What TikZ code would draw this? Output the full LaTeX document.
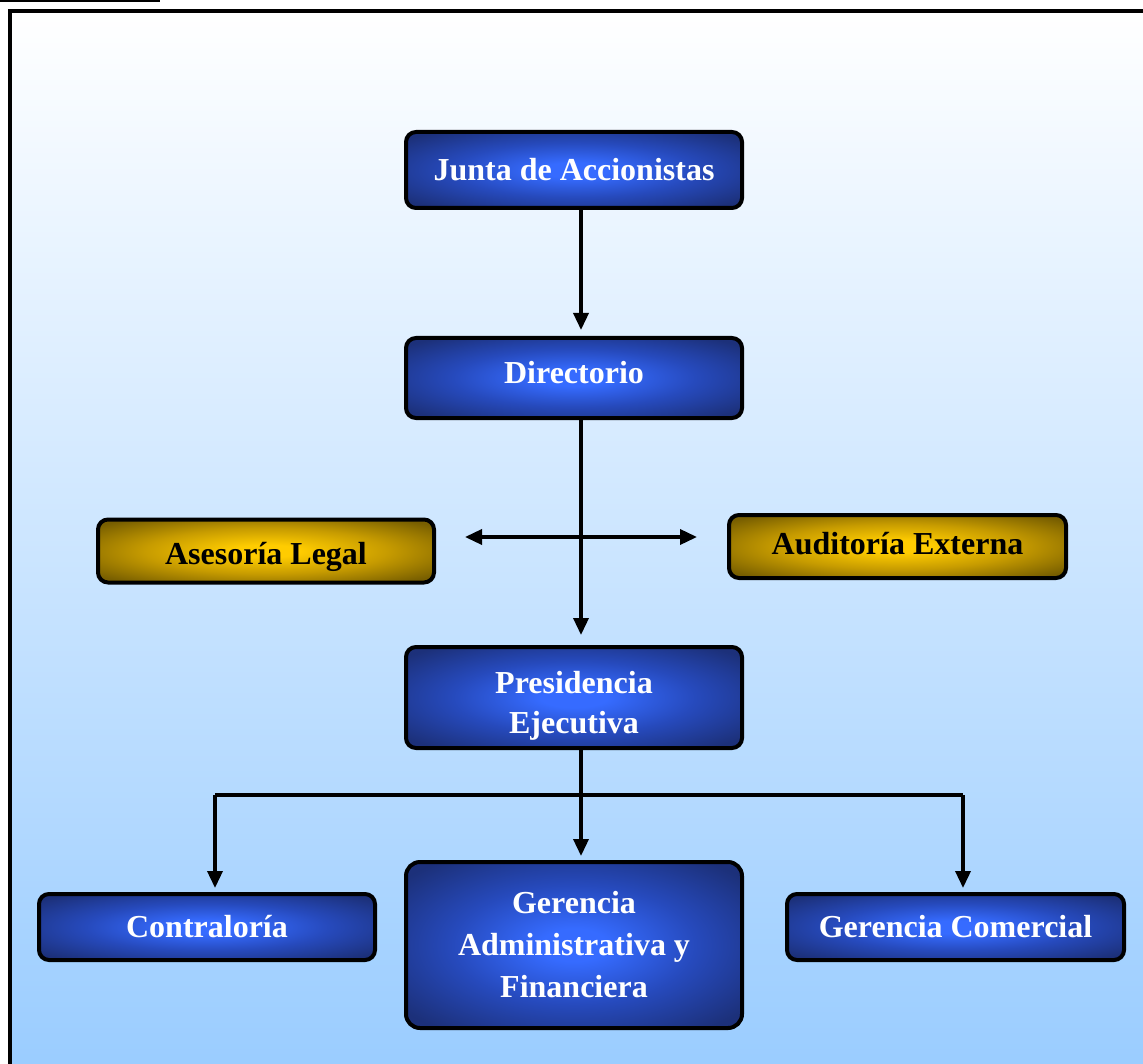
\documentclass[tikz,border=0pt]{standalone}
\usepackage{fontspec}
\setmainfont{Liberation Serif}
\usetikzlibrary{arrows.meta}
\pgfdeclareradialshading{bluesh}{\pgfpoint{0bp}{0bp}}{rgb(0bp)=(0.21,0.42,1); rgb(5bp)=(0.21,0.42,1); rgb(18bp)=(0.15,0.29,0.74); rgb(32bp)=(0.11,0.19,0.48); rgb(50bp)=(0.11,0.19,0.48)}
\pgfdeclareradialshading{goldsh}{\pgfpoint{0bp}{0bp}}{rgb(0bp)=(1,0.8,0); rgb(5bp)=(1,0.8,0); rgb(18bp)=(0.78,0.61,0); rgb(32bp)=(0.47,0.37,0); rgb(50bp)=(0.47,0.37,0)}
\definecolor{bgbot}{RGB}{153,204,255}
\tikzset{
  x=0.5pt, y=-0.5pt,
  boxfont/.style={font=\bfseries\fontsize{16}{21}\selectfont, align=center},
  boxbase/.style={draw=black, line width=2pt, rounded corners=5pt, inner sep=0pt, boxfont},
  bluebox/.style={boxbase, shade, shading=bluesh, text=white},
  goldbox/.style={boxbase, shade, shading=goldsh, text=black},
  wtext/.style={boxfont, text=white, inner sep=0pt},
  conn/.style={line width=1.75pt, draw=black},
  arr/.style={conn, -{Triangle[length=8.5pt,width=7.5pt]}},
  arrtwo/.style={conn, {Triangle[length=8.5pt,width=7.5pt]}-{Triangle[length=8.5pt,width=7.5pt]}},
}
\begin{document}
\begin{tikzpicture}
\useasboundingbox (0,0) rectangle (1143,1063);
\clip (0,0) rectangle (1143,1063);
\fill[white] (0,0) rectangle (1143,1063);
% background panel
\shade[top color=white, bottom color=bgbot] (10,11) rectangle (1160,1080);
\draw[line width=2pt] (10,1080) -- (10,11) -- (1160,11);
\draw[line width=1pt] (0,1) -- (160,1);
% nodes
\node[bluebox, minimum width=168pt, minimum height=38pt] (junta) at (574,170) {Junta de Accionistas};
\node[bluebox, minimum width=168pt, minimum height=40pt] (dir) at (574,378) {};
\node[wtext] (dirtext) at ([yshift=2.5pt]dir.center) {Directorio};
\node[goldbox, minimum width=168pt, minimum height=31.5pt] (ase) at (266,551) {};
\node[boxfont, inner sep=0pt] (asetext) at ([yshift=-3pt]ase.center) {Asesoría Legal};
\node[goldbox, minimum width=168.5pt, minimum height=31.5pt] (aud) at (897.5,546.5) {};
\node[boxfont, inner sep=0pt] (audtext) at ([yshift=1.5pt]aud.center) {Auditoría Externa};
\node[bluebox, minimum width=168pt, minimum height=50.5pt] (pres) at (574,697.5) {};
\node[wtext, font=\bfseries\fontsize{16}{20}\selectfont] (prestext) at ([yshift=-4pt]pres.center) {Presidencia\\Ejecutiva};
\node[bluebox, minimum width=168pt, minimum height=33pt] (cont) at (207,927) {Contraloría};
\node[bluebox, minimum width=168pt, minimum height=83pt, rounded corners=7pt] (ga) at (574,945) {Gerencia\\Administrativa y\\Financiera};
\node[bluebox, minimum width=168.5pt, minimum height=33pt] (gc) at (955.5,927) {Gerencia Comercial};
% connectors
\coordinate (sp) at (581,0);
\coordinate (hl) at (465,537);
\coordinate (hr) at (697,537);
\coordinate (bl) at (215,795);
\coordinate (br) at (963,795);
\draw[arr] (junta.south -| sp) -- ([yshift=3pt]dir.north -| sp);
\draw[arr] (dir.south -| sp) -- ([yshift=5pt]pres.north -| sp);
\draw[arrtwo] (hl) -- (hr);
\draw[arr] (pres.south -| sp) -- ([yshift=2pt]ga.north -| sp);
\draw[conn] (bl) -- (br);
\draw[arr] (bl) -- ([yshift=2pt]cont.north -| bl);
\draw[arr] (br) -- ([yshift=2pt]gc.north -| br);
\end{tikzpicture}
\end{document}
